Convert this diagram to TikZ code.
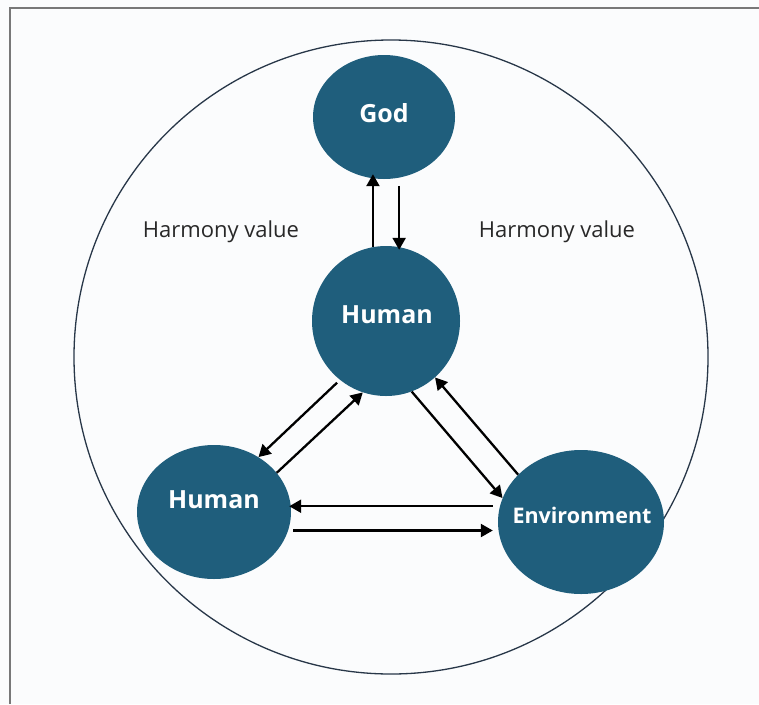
\documentclass[tikz,border=0pt]{standalone}
\usepackage{fontspec}
\setmainfont{Open Sans}
\usetikzlibrary{arrows.meta,shapes.geometric}

\definecolor{pagebg}{RGB}{251,252,253}
\definecolor{framecol}{RGB}{120,120,120}
\definecolor{ringcol}{RGB}{40,55,72}
\definecolor{bubblefill}{RGB}{31,94,124}
\definecolor{textcol}{RGB}{40,40,40}

\tikzset{
  bubble/.style={ellipse, fill=bubblefill, draw=none, inner sep=0pt},
  bubbletext/.style={text=white, font=\fontsize{25}{28}\selectfont\bfseries},
  caption/.style={text=textcol, font=\fontsize{22}{26}\selectfont},
  arr/.style={line width=2.3pt, draw=black, -{Triangle[length=12pt,width=13pt]}},
}

\begin{document}
\begin{tikzpicture}[x=1pt,y=-1pt]
  \useasboundingbox (0,0) rectangle (759,704);
  \fill[pagebg] (0,0) rectangle (759,704);
  % outer frame
  \draw[framecol, line width=1.5pt] (10,704) -- (10,8) -- (759,8);

  % enclosing ring
  \node[circle, draw=ringcol, line width=1.3pt, minimum size=634pt, inner sep=0pt] (ring) at (391,357) {};

  % bubbles
  \node[bubble, minimum width=142pt, minimum height=124pt] (god) at (384,117) {};
  \node[bubble, minimum width=148pt, minimum height=150pt] (hum) at (386,321) {};
  \node[bubble, minimum width=154pt, minimum height=134pt] (huml) at (214,512) {};
  \node[bubble, minimum width=166pt, minimum height=144pt] (env) at (581,522) {};

  \node[bubbletext] (godtxt) at (384,113) {God};
  \node[bubbletext] (humtxt) at (387,315) {Human};
  \node[bubbletext] (humltxt) at (214,500) {Human};
  \node[bubbletext, font=\fontsize{21.5}{25}\selectfont\bfseries] (envtxt) at (582,515) {Environment};

  % captions
  \node[caption] (capl) at (221,232) {Harmony value};
  \node[caption] (capr) at (557,232) {Harmony value};

  % God <-> Human
  \draw[arr, shorten >=-5pt] (hum.100) -- (hum.100 |- god.south);
  \draw[arr, shorten <=8pt, shorten >=-4pt] (god.284) -- (god.284 |- hum.north);

  % Human <-> Human
  \draw[arr, shorten <=4pt] (hum.232) -- (huml.51);
  \draw[arr] (huml.32) -- (hum.252);

  % Human <-> Environment
  \draw[arr] (hum.290) -- (env.163);
  \draw[arr] (env.143) -- (hum.311);

  % Environment <-> Human
  \draw[arr, shorten <=7pt, shorten >=-2pt] (env.169) -- (env.169 -| huml.east);
  \draw[arr, shorten <=5pt, shorten >=5pt] (huml.346) -- (huml.346 -| env.west);
\end{tikzpicture}
\end{document}
